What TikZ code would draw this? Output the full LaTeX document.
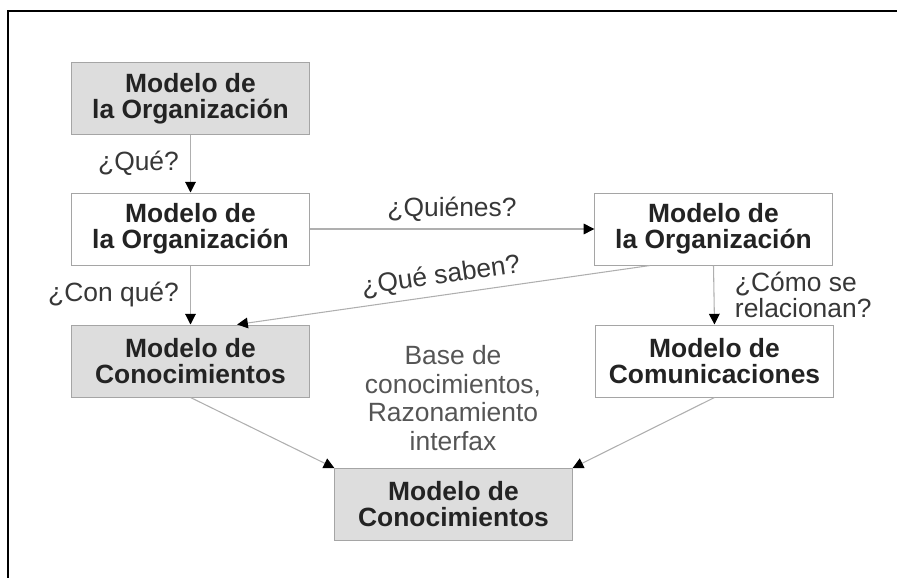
\documentclass[tikz,border=0pt]{standalone}
\usepackage{fontspec}
\setmainfont{Liberation Sans}
\usetikzlibrary{arrows.meta, positioning}
\definecolor{boxgray}{RGB}{221,221,221}
\definecolor{edgegray}{RGB}{165,165,165}
\definecolor{linegray}{RGB}{175,175,175}
\definecolor{textdark}{RGB}{35,35,35}
\definecolor{labeldark}{RGB}{55,55,55}
\definecolor{basegray}{RGB}{85,85,85}

\begin{document}
\begin{tikzpicture}[x=0.75pt, y=-0.75pt,
  model/.style={draw=edgegray, line width=0.75pt, minimum width=178pt, minimum height=54pt,
    align=center, inner sep=0pt, text=textdark, font=\fontsize{19.8}{19.5}\selectfont\bfseries},
  shaded/.style={model, fill=boxgray},
  flow/.style={draw=linegray, line width=0.8pt, -{Triangle[length=8pt, width=8pt, color=black]}},
  question/.style={text=labeldark, font=\fontsize{19.8}{19}\selectfont}
]
  \useasboundingbox (0,0) rectangle (897,578);

  % Frame (top and left only)
  \draw[line width=2pt] (8,578) -- (8,11) -- (897,11);

  % Models
  \node[shaded] (orgtop) at (190.5, 98.5) {Modelo de\\la Organización};
  \node[model] (org) at (190.5, 229) {Modelo de\\la Organización};
  \node[shaded] (know) at (190.5, 361) {Modelo de\\Conocimientos};
  \node[model] (agents) at (713.5, 229) {Modelo de\\la Organización};
  \node[model] (comm) at (714.5, 361) {Modelo de\\Comunicaciones};
  \node[shaded] (design) at (453.5, 504.5) {Modelo de\\Conocimientos};

  % Middle note
  \node[text=basegray, align=center, font=\fontsize{19.8}{21.5}\selectfont] (base) at (453, 398)
    {Base de\\conocimientos,\\Razonamiento\\interfax};

  % Questions on the arrows
  \draw[flow] (orgtop.south) -- node[question, left=5pt] {¿Qué?} (org.north);
  \draw[flow] (org.east) -- node[question, above=2pt] {¿Quiénes?} (agents.west);
  \draw[flow] (org.south) -- node[question, left=5pt] {¿Con qué?} (know.north);
  \draw[flow] ([xshift=-47.5pt]agents.south) -- node[question, above=1pt, sloped] {¿Qué saben?} ([xshift=35pt]know.north);
  \draw[flow] (agents.south) -- node[question, right=12pt, align=left] {¿Cómo se\\relacionan?} (comm.north);

  % Into the design model
  \draw[flow] (know.south) -- (design.north west);
  \draw[flow] (comm.south) -- (design.north east);
\end{tikzpicture}
\end{document}
